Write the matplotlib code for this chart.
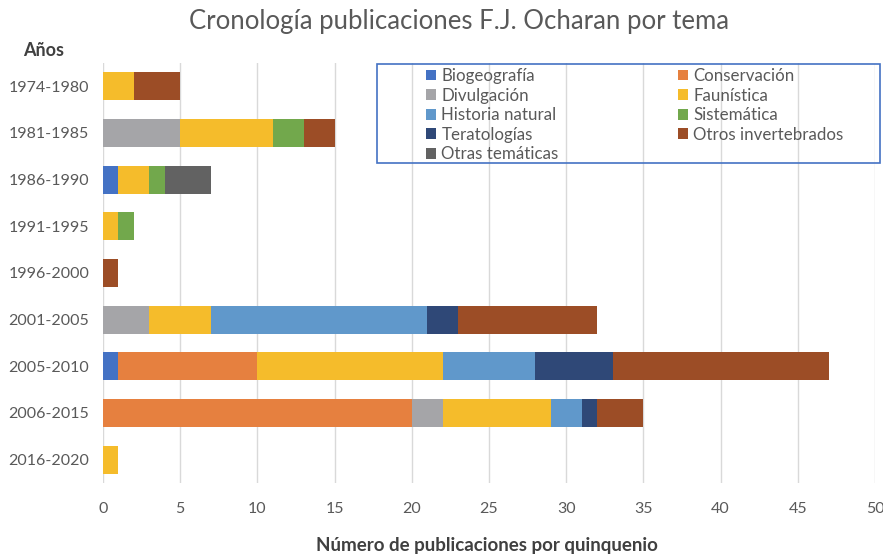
import matplotlib
matplotlib.use("Agg")
import matplotlib.pyplot as plt
from matplotlib.patches import Rectangle, Patch
import numpy as np

plt.rcParams['font.family'] = ['Lato', 'DejaVu Sans']

categories = ["1974-1980", "1981-1985", "1986-1990", "1991-1995", "1996-2000",
              "2001-2005", "2005-2010", "2006-2015", "2016-2020"]

series_names = ["Biogeografía", "Conservación", "Divulgación", "Faunística",
                "Historia natural", "Sistemática", "Teratologías",
                "Otros invertebrados", "Otras temáticas"]

biogeografia        = [0, 0, 1, 0, 0, 0, 1, 0, 0]
conservacion        = [0, 0, 0, 0, 0, 0, 9, 20, 0]
divulgacion         = [0, 5, 0, 0, 0, 3, 0, 2, 0]
faunistica          = [2, 6, 2, 1, 0, 4, 12, 7, 1]
historia_natural    = [0, 0, 0, 0, 0, 14, 6, 2, 0]
sistematica         = [0, 2, 1, 1, 0, 0, 0, 0, 0]
teratologias        = [0, 0, 0, 0, 0, 2, 5, 1, 0]
otros_invertebrados = [3, 2, 0, 0, 1, 9, 14, 3, 0]
otras_tematicas     = [0, 0, 3, 0, 0, 0, 0, 0, 0]

series_values = [biogeografia, conservacion, divulgacion, faunistica,
                 historia_natural, sistematica, teratologias,
                 otros_invertebrados, otras_tematicas]

colors = ["#4472C4", "#E6803F", "#A5A5A8", "#F5BC2B", "#6098CB",
          "#72A84C", "#2F4877", "#9C4D26", "#626262"]

fig = plt.figure(figsize=(8.83, 5.54), dpi=100)
ax = fig.add_axes([103/883, 71/554, (875-103)/883, 420/554])

y = np.arange(len(categories))
left = np.zeros(len(categories))
handles = []
for name, vals, col in zip(series_names, series_values, colors):
    v = np.array(vals, dtype=float)
    ax.barh(y, v, left=left, height=0.6, color=col, edgecolor='none', zorder=3)
    left += v
    handles.append(Patch(facecolor=col, edgecolor='none', label=name))

ax.set_ylim(len(categories) - 0.5, -0.5)
ax.set_yticks(y)
ax.set_yticklabels(categories)
ax.set_xlim(0, 50)
ax.set_xticks(np.arange(0, 51, 5))
ax.grid(axis='x', color='#D9D9D9', linewidth=1, zorder=0)
ax.tick_params(axis='both', length=0, labelsize=11.5, colors='#595959', pad=10)
ax.tick_params(axis='x', pad=14)
for s in ax.spines.values():
    s.set_visible(False)

fig.text(459/883, 1 - 22/554, "Cronología publicaciones F.J. Ocharan por tema",
         ha='center', va='center', fontsize=18.5, color='#595959')
fig.text(44/883, 1 - 50/554, "Años", ha='center', va='center',
         fontsize=13, fontweight='bold', color='#404040')
fig.text(487/883, 1 - 546/554, "Número de publicaciones por quinquenio",
         ha='center', va='center', fontsize=13.5, fontweight='bold', color='#404040')

# legend frame
fig.patches.append(Rectangle((377/883, 1 - 163/554), (880-377)/883, (163-64)/554,
                             transform=fig.transFigure, fill=False,
                             edgecolor='#4472C4', linewidth=1.2))

col1 = [handles[i] for i in (0, 2, 4, 6, 8)]
col2 = [handles[i] for i in (1, 3, 5, 7)]
common = dict(frameon=False, fontsize=12.2, handlelength=0.6, handleheight=0.6,
              handletextpad=0.3, labelspacing=0.21, borderpad=0, borderaxespad=0,
              labelcolor='#595959', loc='upper left')
fig.legend(handles=col1, bbox_to_anchor=(426/883, 1 - 68/554), **common)
fig.legend(handles=col2, bbox_to_anchor=(678/883, 1 - 68/554), **common)

fig.savefig("out.png", dpi=100)
